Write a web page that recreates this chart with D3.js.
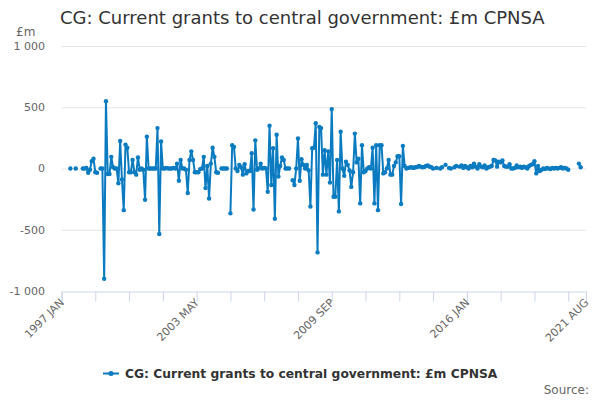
<!DOCTYPE html>
<html>
<head>
<meta charset="utf-8">
<script src="https://cdn.jsdelivr.net/npm/d3@7"></script>
<style>
  body { margin: 0; background: #fff; }
  svg { font-family: "DejaVu Sans", sans-serif; }
</style>
</head>
<body>
<svg id="chart" width="600" height="400"></svg>
<script>
// chart data, monthly from 1997 JAN to 2021 AUG (null = no value)
var seriesName = "CG: Current grants to central government: £m CPNSA";
var startYear = 1997;
var monthNames = ["JAN","FEB","MAR","APR","MAY","JUN","JUL","AUG","SEP","OCT","NOV","DEC"];
var values = [
  null, null, null, null, null, 0, null, null, 0, null,
  null, null, 0, 0, 5, -35, -10, 60, 80, -30,
  -35, null, 0, 0, -900, 550, -45, -45, 95, 10,
  0, 0, -120, 225, -90, -340, 195, 170, -30, -30,
  70, -30, -50, 90, -10, 0, -10, -255, 260, 0,
  0, 0, 0, 0, 330, -535, 220, 0, 0, 5,
  0, 0, 0, 5, 0, 40, -100, 70, 0, 0,
  -10, -200, 70, 140, 70, -30, -30, -30, -5, 0,
  95, -160, 20, -245, 40, 170, 95, -30, -35, null,
  0, 0, 0, 0, null, -366, 190, 175, 0, -20,
  30, 10, -50, 35, -40, -20, -20, 125, -335, 230,
  -10, 0, 40, 0, 5, 0, -190, 350, -135, 165,
  -410, 275, -65, 20, 90, 70, 0, 0, 0, null,
  -95, -135, 0, 245, -100, 75, 30, 0, 30, -15,
  -310, 165, 170, 370, -685, 340, 330, -50, 150, -50,
  140, -115, 485, -230, -230, 70, -350, 300, 0, -60,
  55, 30, -15, -150, -30, 285, 50, 80, -285, 190,
  -30, -20, 0, 10, 0, 170, -285, 190, -340, 190,
  190, -40, -30, 0, 70, -50, -50, 20, 50, 100,
  100, -290, 185, 20, 0, 5, 8, 10, 5, 10,
  12, 20, 15, 10, 12, 20, 25, 15, 10, 0,
  null, 5, null, 0, 10, null, 30, null, 5, 0,
  null, 10, 20, null, 15, 25, 5, 20, 10, 0,
  20, 10, 40, 15, 0, 35, 15, 10, 25, 0,
  10, 15, 20, 70, 65, 15, 55, 50, 65, 20,
  15, 15, 35, 0, 0, 5, 25, 10, 15, 5,
  15, 10, 0, 20, 30, 35, 60, -40, 20, -20,
  -10, 0, -5, 5, 0, -5, 5, 0, 5, 0,
  5, 10, 0, 5, 0, -10, null, null, null, null,
  null, 40, 10, null, null, null
];
var yTicks = [-1000, -500, 0, 500, 1000];
var xTickLabels = ["1997 JAN", "2003 MAY", "2009 SEP", "2016 JAN", "2021 AUG"];

// month labels for every value
var months = values.map(function(v, i) {
  return (startYear + Math.floor(i / 12)) + " " + monthNames[i % 12];
});
var data = values.map(function(v, i) { return { month: months[i], value: v }; });

var svg = d3.select("#chart");
var plotLeft = 61.5, plotRight = 586, plotTop = 46, plotBottom = 291;
var lineColor = "#0b7bc1";

var x = d3.scalePoint().domain(months).range([plotLeft, plotRight]);
var y = d3.scaleLinear().domain([-1000, 1000]).range([plotBottom, plotTop]);

// title
svg.append("text")
  .attr("x", 60).attr("y", 24)
  .style("font-size", "18px").style("fill", "#333")
  .text(seriesName);

// unit label
svg.append("text")
  .attr("x", 16).attr("y", 36)
  .style("font-size", "12px").style("fill", "#666")
  .text("£m");

// gridlines and y labels
var fmt = function(d) { return d3.format(",")(d).replace(/,/g, " ").replace("−", "-"); };
svg.append("g").selectAll("line")
  .data(yTicks.filter(function(d) { return d > -1000; })).enter()
  .append("line")
  .attr("x1", plotLeft).attr("x2", plotRight)
  .attr("y1", function(d) { return y(d) + 0.5; })
  .attr("y2", function(d) { return y(d) + 0.5; })
  .style("stroke", "#e6e6e6");

svg.append("g").selectAll("text")
  .data(yTicks).enter()
  .append("text")
  .attr("x", 45).attr("y", function(d) { return y(d); })
  .attr("dy", "0.35em")
  .attr("text-anchor", "end")
  .style("font-size", "11px").style("fill", "#666")
  .text(function(d) { return fmt(d); });

// x axis
var tickMonths = months.filter(function(m, i) { return i % 19 === 0 || i === months.length - 1; });
var xAxis = d3.axisBottom(x)
  .tickValues(tickMonths)
  .tickSize(10)
  .tickFormat(function(d) { return xTickLabels.indexOf(d) >= 0 ? d : ""; });

var gx = svg.append("g")
  .attr("transform", "translate(0," + (plotBottom + 0.5) + ")")
  .call(xAxis);
gx.select(".domain").style("stroke", "#ccd6eb");
gx.selectAll(".tick line").style("stroke", "#ccd6eb");
gx.selectAll(".tick text")
  .style("font-size", "11px").style("fill", "#666")
  .style("font-family", "DejaVu Sans, sans-serif")
  .attr("text-anchor", "end")
  .attr("x", 0).attr("y", 0).attr("dy", "0.35em")
  .attr("transform", "translate(0,9) rotate(-45)");

// series line with gaps
var line = d3.line()
  .defined(function(d) { return d.value !== null; })
  .x(function(d) { return x(d.month); })
  .y(function(d) { return y(d.value); });

svg.append("path")
  .datum(data)
  .attr("d", line)
  .style("fill", "none")
  .style("stroke", lineColor)
  .style("stroke-width", 2)
  .style("stroke-linejoin", "round");

svg.append("g").selectAll("circle")
  .data(data.filter(function(d) { return d.value !== null; })).enter()
  .append("circle")
  .attr("cx", function(d) { return x(d.month); })
  .attr("cy", function(d) { return y(d.value); })
  .attr("r", 2.2)
  .style("fill", lineColor);

// legend
var legend = svg.append("g");
legend.append("line")
  .attr("x1", 103).attr("x2", 119).attr("y1", 373.5).attr("y2", 373.5)
  .style("stroke", lineColor).style("stroke-width", 2);
legend.append("circle")
  .attr("cx", 111).attr("cy", 373.5).attr("r", 2.5)
  .style("fill", lineColor);
legend.append("text")
  .attr("x", 125).attr("y", 378)
  .style("font-size", "12.3px").style("font-weight", "bold").style("fill", "#333")
  .text(seriesName);

// source
svg.append("text")
  .attr("x", 589).attr("y", 394)
  .attr("text-anchor", "end")
  .style("font-size", "12px").style("fill", "#666")
  .text("Source:");
</script>
</body>
</html>
